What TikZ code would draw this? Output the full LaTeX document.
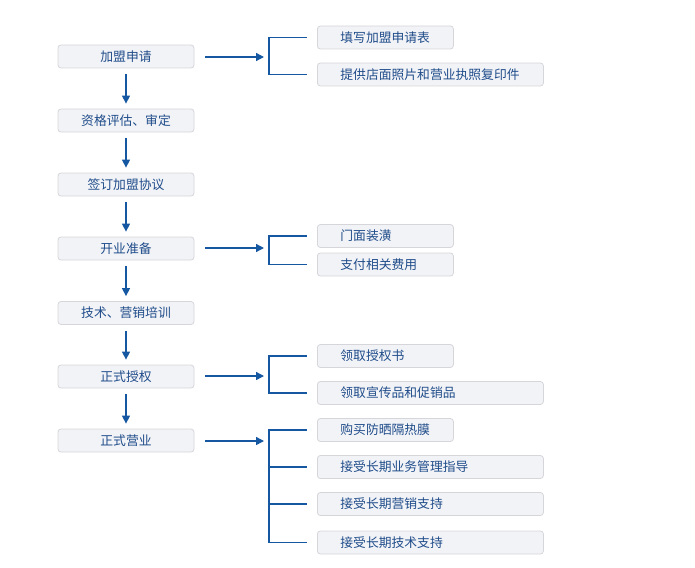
\documentclass[tikz,border=0pt]{standalone}
\usepackage{fontspec}
\setmainfont{Noto Sans CJK SC}
\usetikzlibrary{arrows.meta}
\definecolor{txt}{HTML}{1F4C8A}
\definecolor{ln}{HTML}{1557A0}
\definecolor{boxfill}{HTML}{F2F3F7}
\definecolor{boxline}{HTML}{D6D6DA}
\tikzset{
  box/.style={draw=boxline, line width=0.8pt, fill=boxfill, rounded corners=3pt,
    minimum height=23pt, inner sep=0pt, text=txt, font=\fontsize{12.8}{14}\selectfont},
  lbox/.style={box, minimum width=136pt, anchor=center},
  sbox/.style={box, minimum width=136pt, anchor=west, text width=90pt, align=left},
  wbox/.style={box, minimum width=226pt, anchor=west, text width=180pt, align=left},
  ln/.style={draw=ln, line width=1.4pt},
  arr/.style={ln, -{Triangle[length=8pt,width=8pt]}}
}
\begin{document}
\begin{tikzpicture}[x=1pt,y=-1pt]
\useasboundingbox (0,0) rectangle (695,567);
% left column
\node[lbox] (l1) at (126,56.5) {加盟申请};
\node[lbox] (l2) at (126,120.5) {资格评估、审定};
\node[lbox] (l3) at (126,184.5) {签订加盟协议};
\node[lbox] (l4) at (126,248.5) {开业准备};
\node[lbox] (l5) at (126,313) {技术、营销培训};
\node[lbox] (l6) at (126,376.5) {正式授权};
\node[lbox] (l7) at (126,440.5) {正式营业};
% right column
\node[sbox] (r1) at (317,37.5) {填写加盟申请表};
\node[wbox] (r2) at (317,74.5) {提供店面照片和营业执照复印件};
\node[sbox] (r3) at (317,236) {门面装潢};
\node[sbox] (r4) at (317,264.5) {支付相关费用};
\node[sbox] (r5) at (317,356) {领取授权书};
\node[wbox] (r6) at (317,393) {领取宣传品和促销品};
\node[sbox] (r7) at (317,430) {购买防晒隔热膜};
\node[wbox] (r8) at (317,467) {接受长期业务管理指导};
\node[wbox] (r9) at (317,504) {接受长期营销支持};
\node[wbox] (r10) at (317,542.5) {接受长期技术支持};
% vertical arrows
\foreach \a/\b in {l1/l2,l2/l3,l3/l4,l4/l5,l5/l6,l6/l7}
  \draw[arr] ([yshift=-6pt]\a.south) -- ([yshift=5pt]\b.north);
% brackets
\coordinate (j1) at (269,57);
\coordinate (j2) at (269,248);
\coordinate (j3) at (269,376);
\coordinate (j4) at (269,441);
\foreach \l/\j in {l1/j1,l4/j2,l6/j3,l7/j4}
  \draw[arr] ([xshift=11pt]\l.east |- \j) -- ([xshift=-5pt]\j);
\draw[ln] ([xshift=-10pt]r1.west) -| (j1) |- ([xshift=-10pt]r2.west);
\draw[ln] ([xshift=-10pt]r3.west) -| (j2) |- ([xshift=-10pt]r4.west);
\draw[ln] ([xshift=-10pt]r5.west) -| (j3) |- ([xshift=-10pt]r6.west);
\draw[ln] ([xshift=-10pt]r7.west) -| (j4) |- ([xshift=-10pt]r10.west);
\draw[ln] (j4 |- r8.west) -- ([xshift=-10pt]r8.west);
\draw[ln] (j4 |- r9.west) -- ([xshift=-10pt]r9.west);
\end{tikzpicture}
\end{document}
